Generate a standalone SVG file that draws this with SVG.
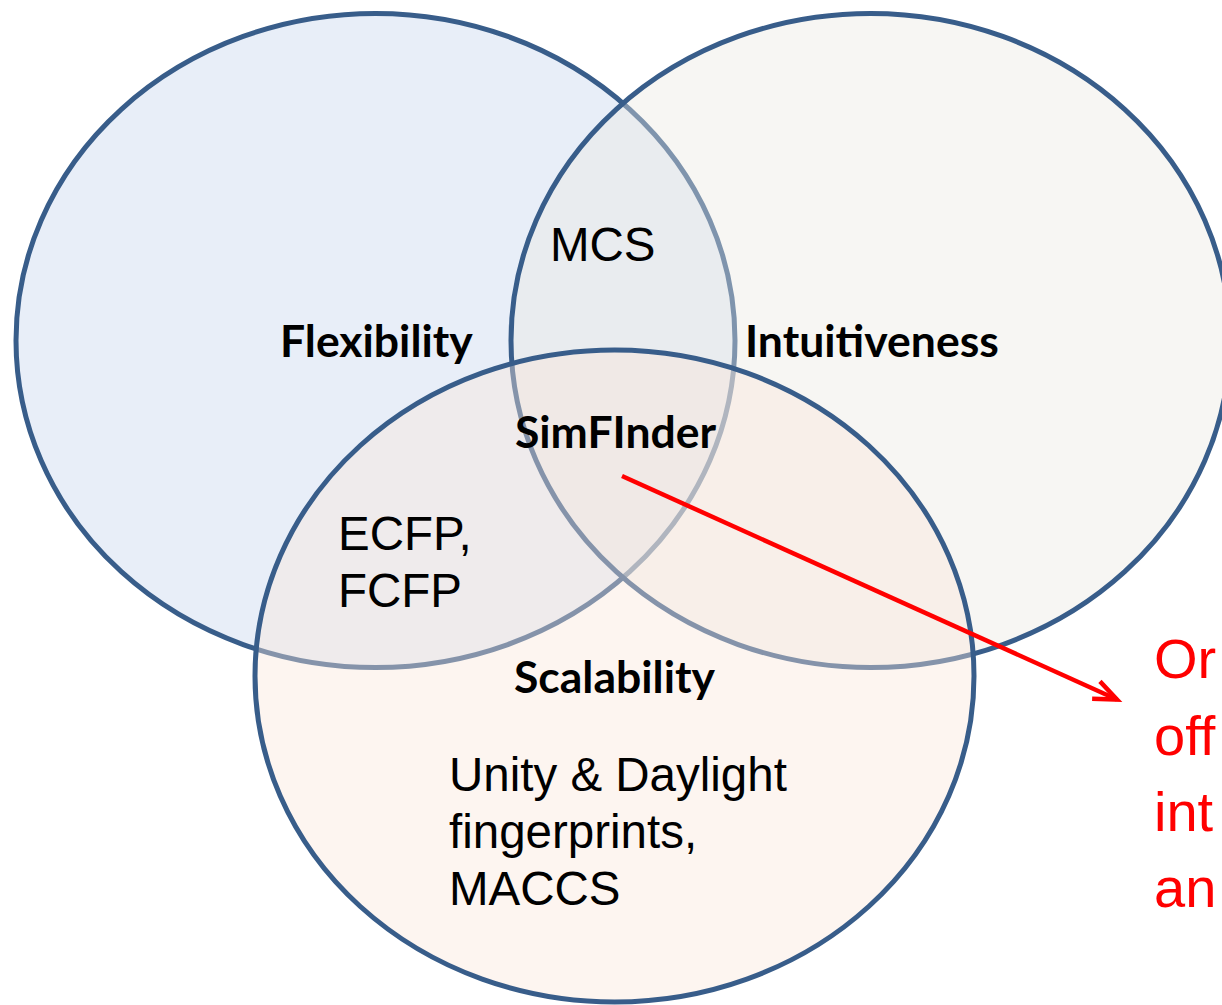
<svg xmlns="http://www.w3.org/2000/svg" width="1222" height="1005" viewBox="0 0 1222 1005">
  <style>
    .set { stroke: #385D8A; stroke-width: 5; fill-opacity: 0.4; }
    .head { font-family: Lato, "Liberation Sans", sans-serif; font-weight: bold; font-size: 44.5px; fill: #000; }
    .item { font-family: "Liberation Sans", Arial, sans-serif; font-size: 47.5px; fill: #000; }
    .note { font-family: "Liberation Sans", Arial, sans-serif; font-size: 56px; fill: #FF0000; }
    .link { stroke: #FF0000; stroke-width: 4.5; fill: none; }
  </style>
  <defs>
    <marker id="open-arrow" markerUnits="userSpaceOnUse" markerWidth="40" markerHeight="30" viewBox="-30 -15 40 30" refX="0" refY="0" orient="auto">
      <path d="M-23,-9.5 L0,0 L-23,9.5" fill="none" stroke="#FF0000" stroke-width="4.5" stroke-linejoin="miter"/>
    </marker>
  </defs>

  <rect width="1222" height="1005" fill="#FFFFFF"/>

  <!-- three overlapping sets -->
  <g id="set-flexibility">
    <ellipse class="set" cx="375.5" cy="340.5" rx="359.5" ry="327" fill="#C6D5EE"/>
  </g>
  <g id="set-intuitiveness">
    <ellipse class="set" cx="870.5" cy="340.5" rx="359.5" ry="327" fill="#EBE8E1"/>
  </g>
  <g id="set-scalability">
    <ellipse class="set" cx="614.5" cy="676" rx="359.5" ry="326" fill="#FAE6DA"/>
  </g>

  <!-- set titles -->
  <g id="label-flexibility"><text class="head" x="280" y="357">Flexibility</text></g>
  <g id="label-intuitiveness"><text class="head" x="745" y="357">Intuitiveness</text></g>
  <g id="label-simfinder"><text class="head" x="515" y="448">SimFInder</text></g>
  <g id="label-scalability"><text class="head" x="514" y="693">Scalability</text></g>

  <!-- methods inside the regions -->
  <g id="item-mcs"><text class="item" x="550" y="261">MCS</text></g>
  <g id="item-ecfp">
    <text class="item" x="338" y="550">ECFP,</text>
    <text class="item" x="338" y="607">FCFP</text>
  </g>
  <g id="item-fingerprints">
    <text class="item" x="449" y="791">Unity &amp; Daylight</text>
    <text class="item" x="449" y="848">fingerprints,</text>
    <text class="item" x="449" y="905">MACCS</text>
  </g>

  <!-- side note -->
  <g id="note">
    <text class="note" x="1154" y="678">Or</text>
    <text class="note" x="1154" y="754.5">off</text>
    <text class="note" x="1154" y="830.5">int</text>
    <text class="note" x="1154" y="906.5">an</text>
  </g>

  <!-- connectors -->
  <g id="connectors">
    <line class="link" x1="622" y1="476" x2="1117" y2="699.5" marker-end="url(#open-arrow)"/>
  </g>
</svg>
